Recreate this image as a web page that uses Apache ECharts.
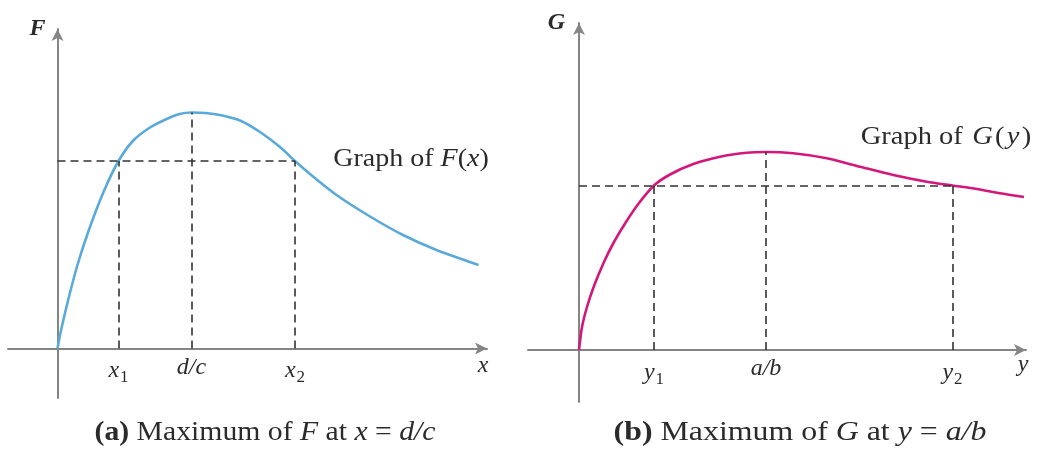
<!DOCTYPE html>
<html>
<head>
<meta charset="utf-8">
<script src="https://cdn.jsdelivr.net/npm/echarts@6/dist/echarts.min.js"></script>
<style>
  html, body { margin: 0; padding: 0; background: #fff; }
  #chart { width: 1037px; height: 450px; }
</style>
</head>
<body>
<div id="chart"></div>
<script>
// F(x): rises steeply from 0, peaks at x = d/c, then decays
const fX = [0, 0.35, 1.08, 1.98, 3.12, 4.58, 6.1, 7.58, 9.25, 10.92, 12.2, 13.4, 14.8, 16.25, 18.25, 20.25, 22.25, 23.75, 25.55, 27.9, 31.25, 34.55, 37.9, 42.1];
const fY = [0, 1.8, 4.9, 8.3, 11.8, 15.6, 18.75, 20.8, 22.1, 22.95, 23.45, 23.6, 23.55, 23.35, 22.8, 21.65, 20.15, 18.75, 17.2, 15.35, 13.2, 11.35, 9.85, 8.35];
// x1, d/c, x2 and the common level F(x1) = F(x2)
const fTickValues = [6.1, 13.4, 23.75];
const fTickLabels = ['{i|x}{s|1}', '{i|d/c}', '{i|x}{s|2}'];
const fLevel = 18.75;
const fPeak = 23.6;

// G(y): rises from 0, broad maximum at y = a/b, slow decline
const gX = [0, 0.3, 0.8, 1.5, 2.5, 3.5, 4.7, 6.0, 7.5, 9.1, 11.43, 14.1, 16.77, 18.7, 21.43, 24.77, 28.1, 31.43, 34.77, 37.35, 39.77, 42.1, 44.5];
const gY = [0, 2.3, 4.3, 6.4, 8.8, 10.8, 12.8, 14.7, 16.45, 17.55, 18.6, 19.33, 19.73, 19.8, 19.67, 19.17, 18.33, 17.5, 16.83, 16.45, 16.1, 15.67, 15.3];
// y1, a/b, y2 and the common level G(y1) = G(y2)
const gTickValues = [7.5, 18.7, 37.35];
const gTickLabels = ['{i|y}{s|1}', '{i|a/b}', '{i|y}{s|2}'];
const gLevel = 16.45;
const gPeak = 19.8;

const SERIF = '"Liberation Serif", "Times New Roman", serif';
const INK = '#2b2b2b';
const AXIS = '#858585';

const pairs = (xs, ys) => xs.map((x, i) => [x, ys[i]]);

const tickRich = {
  i: { fontFamily: SERIF, fontStyle: 'italic', fontSize: 24, color: INK },
  s: { fontFamily: SERIF, fontSize: 17, color: INK, padding: [14, 0, 0, 1] }
};

function valueAxis(gridIndex, min, max, extra) {
  return Object.assign({
    type: 'value',
    gridIndex,
    min, max,
    splitLine: { show: false },
    axisTick: { show: false },
    axisLabel: { show: false },
    axisLine: {
      show: true,
      onZero: true,
      symbol: ['none', 'arrow'],
      symbolSize: [9, 12],
      lineStyle: { color: AXIS, width: 2 }
    }
  }, extra);
}

function guideLines(ticks, level, peak) {
  return {
    silent: true,
    symbol: ['none', 'none'],
    label: { show: false },
    emphasis: { disabled: true },
    lineStyle: { color: '#333', width: 1.6, type: [8, 5] },
    data: [
      [{ coord: [0, level] }, { coord: [ticks[2], level] }],
      [{ coord: [ticks[0], 0] }, { coord: [ticks[0], level] }],
      [{ coord: [ticks[1], 0] }, { coord: [ticks[1], peak] }],
      [{ coord: [ticks[2], 0] }, { coord: [ticks[2], level] }]
    ]
  };
}

// labels for x1, d/c, x2 (and y1, a/b, y2) sit just under the horizontal axis
function tickLabelSeries(axisIndex, values, labels) {
  return {
    type: 'scatter', xAxisIndex: axisIndex, yAxisIndex: axisIndex,
    data: values.map(v => [v, 0]),
    symbolSize: 0, silent: true,
    itemStyle: { color: INK, opacity: 1 },
    label: {
      show: true, position: 'bottom', distance: 7, color: INK, opacity: 1,
      formatter: (p) => labels[p.dataIndex],
      rich: tickRich
    },
    z: 5
  };
}

const axisName = (extra) => Object.assign({ fontFamily: SERIF, fontStyle: 'italic', fontSize: 24, color: INK }, extra);

const chart = echarts.init(document.getElementById('chart'), null, { renderer: 'canvas' });

chart.setOption({
  backgroundColor: '#ffffff',
  animation: false,
  grid: [
    { left: 8, top: 29, width: 479, height: 369, containLabel: false, outerBoundsMode: 'none' },
    { left: 528, top: 23, width: 498, height: 379, containLabel: false, outerBoundsMode: 'none' }
  ],
  xAxis: [
    valueAxis(0, -4.95, 42.95, {
      name: 'x', nameLocation: 'end', nameGap: -4,
      nameTextStyle: axisName({ align: 'center', verticalAlign: 'top', padding: [5, 0, 0, 0] })
    }),
    valueAxis(1, -5.1, 44.7, {
      name: 'y', nameLocation: 'end', nameGap: -3,
      nameTextStyle: axisName({ align: 'center', verticalAlign: 'top', padding: [3, 0, 0, 0] })
    })
  ],
  yAxis: [
    valueAxis(0, -4.95, 31.95, {
      name: 'F', nameLocation: 'end', nameGap: 0,
      nameTextStyle: axisName({ fontWeight: 'bold', align: 'right', verticalAlign: 'middle', padding: [5, 12, 0, 0] })
    }),
    valueAxis(1, -5.2, 32.7, {
      name: 'G', nameLocation: 'end', nameGap: 0,
      nameTextStyle: axisName({ fontWeight: 'bold', align: 'right', verticalAlign: 'middle', padding: [5, 14, 0, 0] })
    })
  ],
  series: [
    {
      type: 'line', xAxisIndex: 0, yAxisIndex: 0,
      data: pairs(fX, fY),
      smooth: 0.25, showSymbol: false, silent: true,
      lineStyle: { color: '#5aaad9', width: 2.6 },
      markLine: guideLines(fTickValues, fLevel, fPeak),
      z: 3
    },
    {
      type: 'line', xAxisIndex: 1, yAxisIndex: 1,
      data: pairs(gX, gY),
      smooth: 0.25, showSymbol: false, silent: true,
      lineStyle: { color: '#d3177b', width: 2.6 },
      markLine: guideLines(gTickValues, gLevel, gPeak),
      z: 3
    },
    tickLabelSeries(0, fTickValues, fTickLabels),
    tickLabelSeries(1, gTickValues, gTickLabels)
  ],
  graphic: [
    {
      type: 'text', x: 411, y: 159, scaleX: 1.12,
      style: {
        text: '{n|Graph of }{i|F}{n|(}{i|x}{n|)}',
        fontFamily: SERIF, fontSize: 25, fill: INK,
        textAlign: 'center', textVerticalAlign: 'middle',
        rich: {
          n: { fontFamily: SERIF, fontSize: 25, fill: INK },
          i: { fontFamily: SERIF, fontSize: 25, fontStyle: 'italic', fill: INK }
        }
      }
    },
    {
      type: 'text', x: 946, y: 137, scaleX: 1.14,
      style: {
        text: '{n|Graph of }{i|G}{n|(}{i|y}{n|)}',
        fontFamily: SERIF, fontSize: 25, fill: INK,
        textAlign: 'center', textVerticalAlign: 'middle',
        rich: {
          n: { fontFamily: SERIF, fontSize: 25, fill: INK },
          i: { fontFamily: SERIF, fontSize: 25, fontStyle: 'italic', fill: INK, padding: [0, 2, 0, 2] }
        }
      }
    },
    {
      type: 'text', x: 265, y: 433, scaleX: 1.1,
      style: {
        text: '{b|(a)}{n| Maximum of }{i|F}{n| at }{i|x}{n| = }{i|d/c}',
        fontFamily: SERIF, fontSize: 27, fill: INK,
        textAlign: 'center', textVerticalAlign: 'middle',
        rich: {
          b: { fontFamily: SERIF, fontSize: 27, fontWeight: 'bold', fill: INK },
          n: { fontFamily: SERIF, fontSize: 27, fill: INK },
          i: { fontFamily: SERIF, fontSize: 27, fontStyle: 'italic', fill: INK }
        }
      }
    },
    {
      type: 'text', x: 800, y: 433, scaleX: 1.18,
      style: {
        text: '{b|(b)}{n| Maximum of }{i|G}{n| at }{i|y}{n| = }{i|a/b}',
        fontFamily: SERIF, fontSize: 27, fill: INK,
        textAlign: 'center', textVerticalAlign: 'middle',
        rich: {
          b: { fontFamily: SERIF, fontSize: 27, fontWeight: 'bold', fill: INK },
          n: { fontFamily: SERIF, fontSize: 27, fill: INK },
          i: { fontFamily: SERIF, fontSize: 27, fontStyle: 'italic', fill: INK }
        }
      }
    }
  ]
});
</script>
</body>
</html>
